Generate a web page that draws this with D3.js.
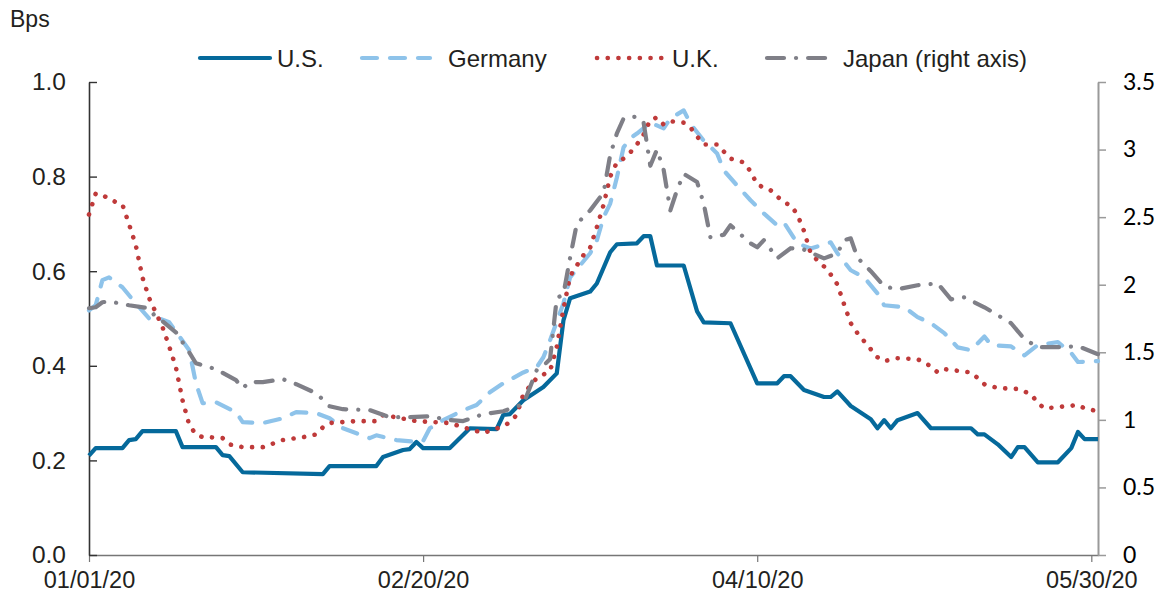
<!DOCTYPE html>
<html>
<head>
<meta charset="utf-8">
<script src="https://cdn.jsdelivr.net/npm/d3@7"></script>
<style>
  body { margin: 0; background: #fff; }
  svg text { font-family: "Liberation Sans", Arial, sans-serif; fill: #231f20; }
  .right-axis text { font-family: Lato, "Open Sans", sans-serif; fill: #000; }
</style>
</head>
<body>
<svg id="chart"></svg>
<script>
// days counted from 01/01/20
const startDate = new Date(2020, 0, 1);
const xTickLabels = ["01/01/20", "02/20/20", "04/10/20", "05/30/20"];
const leftTicks = [0, 0.2, 0.4, 0.6, 0.8, 1.0];
const rightTicks = [0, 0.5, 1, 1.5, 2, 2.5, 3, 3.5];
const seriesNames = ["U.S.", "Germany", "U.K.", "Japan (right axis)"];

const usSeries = [[0,.21],[1,.226],[5,.226],[6,.243],[7,.245],[8,.262],[13,.262],[14,.228],[19,.228],[20,.211],[21,.209],[23,.175],
  [35,.171],[36,.188],[43,.188],[44,.207],[47,.222],[48,.224],[49,.239],[50,.226],[54,.226],[57,.268],[61,.266],[62,.296],
  [63,.298],[65,.327],[68,.355],[70,.384],[71,.496],[72,.543],[75,.557],[76,.574],[78,.64],[79,.657],[82,.659],[83,.674],
  [84,.674],[85,.612],[89,.612],[91,.515],[92,.492],[96,.49],[100,.363],[103,.363],[104,.378],[105,.378],[107,.349],[110,.334],
  [111,.334],[112,.346],[114,.315],[117,.287],[118,.268],[119,.285],[120,.268],[121,.285],[124,.3],[126,.268],[132,.268],[133,.255],
  [134,.255],[136,.234],[138,.207],[139,.228],[140,.228],[142,.196],[145,.196],[147,.226],[148,.26],[149,.245],[151,.245]];

const germanySeries = [[0,.517],[1,.528],[2,.581],[3,.587],[5,.566],[7,.532],[9,.5],[10,.503],[12,.492],[15,.433],[16,.363],[17,.321],
  [19,.323],[22,.302],[23,.281],[26,.279],[29,.289],[31,.302],[34,.3],[36,.289],[38,.268],[42,.247],[43,.253],[46,.243],[49,.239],
  [50,.241],[51,.268],[53,.285],[56,.306],[58,.317],[60,.344],[62,.363],[65,.386],[67,.397],[68,.418],[69,.454],[71,.532],[72,.587],
  [75,.638],[76,.665],[77,.714],[78,.743],[79,.798],[80,.862],[81,.881],[82,.891],[84,.914],[86,.902],[87,.923],[89,.94],[90,.912],
  [92,.876],[94,.849],[95,.813],[97,.781],[99,.75],[101,.722],[103,.697],[104,.703],[106,.659],[108,.648],[111,.661],[112,.638],
  [114,.602],[116,.587],[118,.553],[119,.528],[122,.524],[124,.503],[126,.49],[128,.469],[130,.439],[132,.433],[134,.462],[135,.444],
  [138,.441],[140,.422],[142,.444],[145,.45],[147,.427],[148,.408],[151,.41]];

const ukSeries = [[0,.72],[1,.764],[2,.762],[3,.752],[5,.741],[6,.699],[7,.655],[8,.587],[9,.543],[11,.482],[12,.441],[13,.397],
  [14,.327],[15,.275],[16,.255],[17,.249],[18,.249],[20,.247],[21,.234],[23,.228],[26,.228],[29,.243],[32,.249],[34,.255],[35,.27],
  [36,.279],[40,.283],[43,.283],[44,.296],[46,.291],[49,.283],[54,.279],[56,.27],[59,.258],[62,.272],[63,.281],[64,.296],[65,.34],
  [67,.374],[69,.389],[70,.44],[71,.52],[72,.59],[74,.634],[75,.65],[76,.693],[77,.74],[78,.8],[79,.83],[80,.838],[81,.851],[82,.868],
  [83,.889],[84,.92],[85,.925],[86,.91],[87,.917],[89,.914],[90,.904],[91,.885],[92,.868],[94,.868],[96,.838],[98,.83],[99,.811],
  [100,.783],[102,.771],[104,.745],[105,.74],[106,.72],[107,.685],[108,.638],[109,.623],[110,.61],[111,.593],[112,.572],[113,.53],
  [114,.49],[115,.469],[116,.452],[117,.435],[118,.418],[119,.41],[121,.416],[124,.414],[126,.399],[127,.386],[128,.393],[132,.386],
  [133,.374],[134,.361],[136,.353],[139,.351],[141,.34],[142,.321],[143,.31],[148,.317],[149,.31],[151,.304]];

const japanSeries = [[0,1.826],[1,1.833],[2,1.87],[3,1.877],[6,1.848],[9,1.826],[10,1.759],[11,1.73],[13,1.648],[15,1.5],[16,1.419],
  [19,1.375],[22,1.294],[23,1.234],[24,1.28],[26,1.279],[29,1.301],[31,1.264],[34,1.197],[36,1.101],[38,1.079],[42,1.072],[45,1.02],
  [48,1.02],[51,1.027],[54,.998],[56,.991],[59,1.042],[62,1.064],[65,1.116],[67,1.368],[68,1.4],[69,1.45],[70,1.9],[71,1.93],[72,2.2],
  [73,2.45],[75,2.55],[77,2.68],[78,2.96],[79,3.12],[80,3.23],[82,3.245],[83,3.2],[84,2.88],[85,3.0],[86,2.85],[87,2.55],[88,2.7],
  [89,2.82],[91,2.76],[92,2.6],[93,2.35],[95,2.37],[96,2.44],[99,2.306],[100,2.277],[101,2.33],[103,2.195],[105,2.27],[107,2.26],
  [110,2.195],[112,2.232],[113,2.33],[114,2.343],[115,2.2],[117,2.1],[119,1.988],[121,1.966],[124,1.996],[127,2.01],[129,1.892],
  [131,1.907],[134,1.833],[136,1.774],[138,1.715],[140,1.597],[142,1.538],[145,1.538],[148,1.545],[151,1.486]];

const width = 1163, height = 596;
const plot = {left: 89, right: 1098, top: 82, bottom: 555};

const svg = d3.select("#chart").attr("width", width).attr("height", height);

const parseTick = d3.timeParse("%m/%d/%y");
const toDate = d => d3.timeDay.offset(startDate, d);

const x = d3.scaleTime().domain([startDate, toDate(151)]).range([plot.left, plot.right]);
const yLeft = d3.scaleLinear().domain([0, 1]).range([plot.bottom, plot.top]);
const yRight = d3.scaleLinear().domain([0, 3.5]).range([plot.bottom, plot.top]);

// axes
const xAxis = d3.axisBottom(x).tickValues(xTickLabels.map(parseTick))
  .tickFormat(d3.timeFormat("%m/%d/%y")).tickSize(7).tickSizeOuter(0);
svg.append("g").attr("transform", `translate(0,${plot.bottom})`).call(xAxis)
  .call(g => g.select(".domain").attr("stroke", "#767676").attr("stroke-width", 1.5))
  .call(g => g.selectAll(".tick line").attr("stroke", "#767676").attr("stroke-width", 1.2))
  .call(g => g.selectAll(".tick text").attr("font-size", 23.5).attr("dy", "0.95em").attr("y", 11));

const leftAxis = d3.axisLeft(yLeft).tickValues(leftTicks).tickFormat(d3.format(".1f"))
  .tickSize(-8).tickSizeOuter(0).tickPadding(23);
svg.append("g").attr("transform", `translate(${plot.left},0)`).call(leftAxis)
  .call(g => g.select(".domain").attr("stroke", "#333").attr("stroke-width", 1.6))
  .call(g => g.selectAll(".tick line").attr("stroke", "#333").attr("stroke-width", 1.4))
  .call(g => g.selectAll(".tick text").attr("font-size", 24.5).attr("fill", "#231f20"));

const rightAxis = d3.axisRight(yRight).tickValues(rightTicks).tickFormat(d3.format("~g"))
  .tickSize(8).tickSizeOuter(0).tickPadding(17);
svg.append("g").attr("class", "right-axis").attr("transform", `translate(${plot.right},0)`).call(rightAxis)
  .call(g => g.select(".domain").attr("stroke", "#9a9a9a").attr("stroke-width", 2))
  .call(g => g.selectAll(".tick line").attr("stroke", "#9a9a9a").attr("stroke-width", 1.5))
  .call(g => g.selectAll(".tick text").attr("font-size", 23));

svg.append("text").attr("x", 10).attr("y", 27).attr("font-size", 23).text("Bps");

// series
const styles = [
  {data: usSeries, y: yLeft, color: "#05699b", width: 4.2, dash: null, cap: "butt"},
  {data: germanySeries, y: yLeft, color: "#8ec3ea", width: 4.2, dash: "15,13", cap: "round"},
  {data: ukSeries, y: yLeft, color: "#bf3a3a", width: 4.6, dash: "0.1,10.6", cap: "round"},
  {data: japanSeries, y: yRight, color: "#7f7f87", width: 4.2, dash: "17,12,0.1,12", cap: "round"}
];

styles.forEach(s => {
  const line = d3.line().x(d => x(toDate(d[0]))).y(d => s.y(d[1]));
  svg.append("path").datum(s.data)
    .attr("d", line)
    .attr("fill", "none")
    .attr("stroke", s.color)
    .attr("stroke-width", s.width)
    .attr("stroke-linejoin", "round")
    .attr("stroke-linecap", s.cap)
    .attr("stroke-dasharray", s.dash);
});

// legend
const legendY = 58;
const legendItems = [
  {x0: 200, x1: 270, tx: 277},
  {x0: 362, x1: 430, tx: 448},
  {x0: 597, x1: 664, tx: 672},
  {x0: 767, x1: 836, tx: 843}
];
legendItems.forEach((it, i) => {
  const s = styles[i];
  svg.append("line")
    .attr("x1", it.x0).attr("x2", it.x1).attr("y1", legendY).attr("y2", legendY)
    .attr("stroke", s.color).attr("stroke-width", s.width)
    .attr("stroke-linecap", i === 0 ? "round" : s.cap)
    .attr("stroke-dasharray", s.dash);
  svg.append("text").attr("x", it.tx).attr("y", legendY + 8.5)
    .attr("font-size", 24).text(seriesNames[i]);
});
</script>
</body>
</html>
